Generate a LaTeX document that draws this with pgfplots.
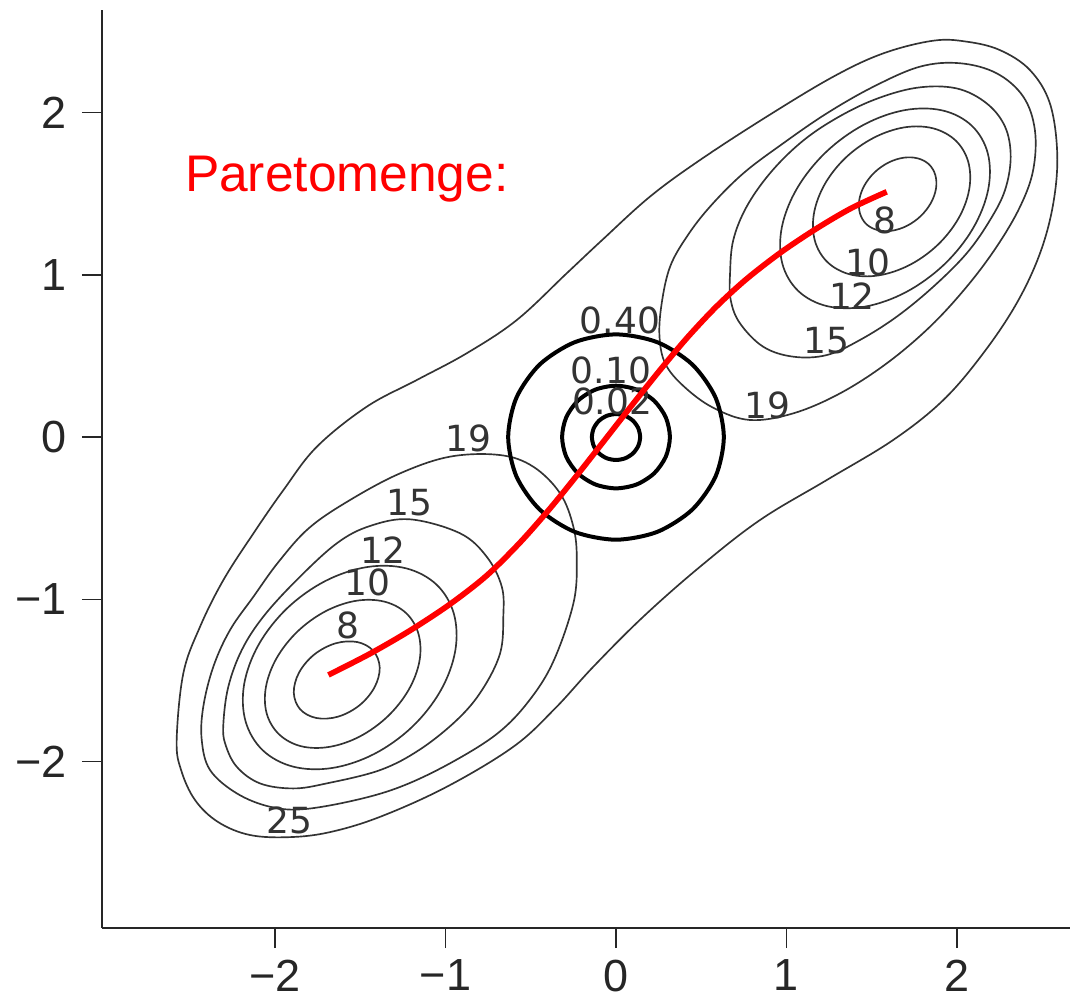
\documentclass[border=0pt]{standalone}
\usepackage{pgfplots}
\pgfplotsset{compat=1.18}
\usepackage{fontspec}
\setmainfont{Liberation Sans}
\newfontfamily\labelfont{DejaVu Sans}

% thin level lines of f1, thick circles of f2 = x^2 + y^2
\pgfplotsset{
  level/.style={black!80, line width=0.5pt, smooth cycle, tension=0.6},
  ring/.style={black, line width=1.2pt, smooth cycle},
}
\tikzset{
  clab/.style={font=\labelfont\fontsize{10.8}{12}\selectfont, text=black!80, inner sep=0pt},
}

\begin{document}
\begin{tikzpicture}
\path[use as bounding box] (-30.6pt,-22.2pt) rectangle (290.4pt,278.4pt);
\begin{axis}[
  at={(0pt,0pt)}, anchor=south west,
  scale only axis, width=290.4pt, height=275.4pt,
  xmin=-3.015, xmax=2.663, ymin=-3.025, ymax=2.631,
  axis lines*=left,
  axis line style={line width=0.6pt, black!85},
  tick align=outside,
  major tick length=6pt,
  tick style={line width=0.5pt, black!85},
  xtick={-2,-1,0,1,2}, ytick={-2,-1,0,1,2},
  xticklabels={−2,−1,0,1,2}, yticklabels={−2,−1,0,1,2},
  tick label style={font=\fontsize{13.5}{16}\selectfont, text=black!85},
  yticklabel style={xshift=-1pt},
  clip=false,
]

% level 25 (encloses both wells)
\addplot[level] coordinates {
(-2.577,-1.867) (-2.538,-1.456) (-2.440,-1.169) (-2.303,-0.881) (-2.127,-0.594)
(-1.951,-0.327) (-1.755,-0.060) (-1.462,0.187) (-1.169,0.351) (-0.876,0.516)
(-0.582,0.721) (-0.289,1.009) (-0.080,1.215) (0.199,1.481) (0.493,1.707)
(0.884,1.974) (1.274,2.220) (1.568,2.364) (1.861,2.442) (2.057,2.436)
(2.252,2.384) (2.428,2.261) (2.545,2.056) (2.588,1.748) (2.565,1.440)
(2.487,1.132) (2.350,0.824) (2.154,0.516) (1.920,0.228) (1.626,-0.018)
(1.236,-0.265) (0.845,-0.511) (0.493,-0.799) (0.160,-1.107) (-0.133,-1.415)
(-0.360,-1.675) (-0.602,-1.908) (-0.993,-2.155) (-1.384,-2.340) (-1.677,-2.434)
(-1.912,-2.465) (-2.147,-2.452) (-2.334,-2.372) (-2.469,-2.237) (-2.551,-2.052)
};

% lower-left well: 19, 15, 12, 10, 8
\addplot[level] coordinates {
(-1.980,-0.770) (-1.800,-0.560) (-1.560,-0.388) (-1.267,-0.224) (-0.974,-0.121)
(-0.680,-0.111) (-0.485,-0.183) (-0.328,-0.347) (-0.250,-0.553) (-0.230,-0.758)
(-0.250,-1.025) (-0.369,-1.386) (-0.514,-1.630) (-0.695,-1.826) (-0.956,-2.000)
(-1.238,-2.144) (-1.500,-2.230) (-1.824,-2.292) (-2.029,-2.278) (-2.225,-2.195)
(-2.381,-2.052) (-2.430,-1.867) (-2.421,-1.662) (-2.362,-1.415) (-2.264,-1.189)
(-2.127,-0.984)
};
\addplot[level] coordinates {
(-2.303,-1.764) (-2.274,-1.538) (-2.195,-1.312) (-2.069,-1.107) (-1.873,-0.881)
(-1.638,-0.655) (-1.443,-0.548) (-1.208,-0.507) (-0.915,-0.593) (-0.758,-0.738)
(-0.670,-0.922) (-0.661,-1.107) (-0.680,-1.333) (-0.786,-1.559) (-0.930,-1.740)
(-1.150,-1.925) (-1.384,-2.052) (-1.697,-2.134) (-1.893,-2.165) (-2.088,-2.134)
(-2.225,-2.031) (-2.293,-1.887)
};
\addplot[level] coordinates {
(-1.052,-0.910) (-1.231,-0.809) (-1.460,-0.801) (-1.705,-0.887) (-1.928,-1.054)
(-2.095,-1.277) (-2.181,-1.522) (-2.173,-1.751) (-2.072,-1.930) (-1.893,-2.031)
(-1.664,-2.039) (-1.419,-1.953) (-1.196,-1.786) (-1.029,-1.563) (-0.943,-1.318)
(-0.951,-1.089)
};
\addplot[level] coordinates {
(-1.230,-1.086) (-1.359,-1.014) (-1.525,-1.009) (-1.703,-1.073) (-1.866,-1.196)
(-1.989,-1.359) (-2.053,-1.537) (-2.049,-1.703) (-1.976,-1.832) (-1.847,-1.905)
(-1.681,-1.909) (-1.503,-1.845) (-1.340,-1.722) (-1.217,-1.559) (-1.153,-1.381)
(-1.158,-1.215)
};
\addplot[level] coordinates {
(-1.424,-1.317) (-1.518,-1.263) (-1.645,-1.271) (-1.770,-1.340) (-1.859,-1.451)
(-1.890,-1.574) (-1.853,-1.677) (-1.758,-1.731) (-1.631,-1.723) (-1.506,-1.654)
(-1.417,-1.543) (-1.386,-1.420)
};

% upper-right well: 19, 15, 12, 10, 8
\addplot[level] coordinates {
(0.255,0.620) (0.268,0.824) (0.317,1.049) (0.415,1.234) (0.551,1.419)
(0.747,1.625) (0.981,1.810) (1.236,1.994) (1.509,2.158) (1.783,2.282)
(2.018,2.303) (2.233,2.241) (2.389,2.097) (2.457,1.892) (2.447,1.645)
(2.370,1.419) (2.233,1.173) (2.057,0.926) (1.842,0.680) (1.588,0.454)
(1.314,0.269) (1.040,0.146) (0.786,0.105) (0.571,0.180) (0.400,0.310)
(0.290,0.450)
};
\addplot[level] coordinates {
(0.669,1.009) (0.688,1.214) (0.766,1.419) (0.903,1.625) (1.079,1.810)
(1.274,1.953) (1.509,2.076) (1.764,2.152) (1.998,2.148) (2.174,2.056)
(2.282,1.912) (2.315,1.727) (2.282,1.522) (2.194,1.337) (2.057,1.132)
(1.861,0.926) (1.646,0.741) (1.431,0.598) (1.236,0.505) (1.040,0.495)
(0.864,0.556) (0.727,0.701) (0.673,0.844)
};
\addplot[level] coordinates {
(2.087,1.918) (1.916,2.012) (1.693,2.014) (1.453,1.924) (1.232,1.756)
(1.063,1.534) (0.973,1.294) (0.975,1.071) (1.069,0.900) (1.240,0.806)
(1.463,0.804) (1.703,0.894) (1.925,1.063) (2.093,1.284) (2.183,1.524)
(2.181,1.747)
};
\addplot[level] coordinates {
(1.992,1.827) (1.860,1.902) (1.692,1.908) (1.512,1.844) (1.347,1.721)
(1.224,1.557) (1.161,1.377) (1.167,1.208) (1.241,1.077) (1.373,1.002)
(1.541,0.996) (1.722,1.060) (1.886,1.183) (2.009,1.347) (2.072,1.527)
(2.066,1.696)
};
\addplot[level] coordinates {
(1.836,1.680) (1.770,1.717) (1.687,1.721) (1.598,1.691) (1.517,1.631)
(1.457,1.550) (1.427,1.461) (1.431,1.378) (1.468,1.312) (1.534,1.275)
(1.617,1.271) (1.706,1.301) (1.787,1.361) (1.847,1.442) (1.877,1.531)
(1.873,1.614)
};

% f2 levels 0.02, 0.10, 0.40
\addplot[ring] coordinates {
(0.1414,0) (0.1307,0.0541) (0.1,0.1) (0.0541,0.1307) (0,0.1414)
(-0.0541,0.1307) (-0.1,0.1) (-0.1307,0.0541) (-0.1414,0) (-0.1307,-0.0541)
(-0.1,-0.1) (-0.0541,-0.1307) (0,-0.1414) (0.0541,-0.1307) (0.1,-0.1) (0.1307,-0.0541)
};
\addplot[ring] coordinates {
(0.3162,0) (0.2921,0.1210) (0.2236,0.2236) (0.1210,0.2921) (0,0.3162)
(-0.1210,0.2921) (-0.2236,0.2236) (-0.2921,0.1210) (-0.3162,0) (-0.2921,-0.1210)
(-0.2236,-0.2236) (-0.1210,-0.2921) (0,-0.3162) (0.1210,-0.2921) (0.2236,-0.2236) (0.2921,-0.1210)
};
\addplot[ring] coordinates {
(0.6325,0) (0.5843,0.2420) (0.4472,0.4472) (0.2420,0.5843) (0,0.6325)
(-0.2420,0.5843) (-0.4472,0.4472) (-0.5843,0.2420) (-0.6325,0) (-0.5843,-0.2420)
(-0.4472,-0.4472) (-0.2420,-0.5843) (0,-0.6325) (0.2420,-0.5843) (0.4472,-0.4472) (0.5843,-0.2420)
};

% contour labels
\node[clab] at (axis cs:-1.572,-1.158) {8};
\node[clab] at (axis cs:-1.457,-0.896) {10};
\node[clab] at (axis cs:-1.367,-0.696) {12};
\node[clab] at (axis cs:-1.214,-0.407) {15};
\node[clab] at (axis cs:-0.868,-0.009) {19};
\node[clab] at (axis cs:-1.918,-2.360) {25};
\node[clab] at (axis cs:1.578,1.337) {8};
\node[clab] at (axis cs:1.478,1.075) {10};
\node[clab] at (axis cs:1.384,0.869) {12};
\node[clab] at (axis cs:1.232,0.592) {15};
\node[clab] at (axis cs:0.886,0.197) {19};
\node[clab] at (axis cs:0.023,0.721) {0.40};
\node[clab] at (axis cs:-0.029,0.413) {0.10};
\node[clab] at (axis cs:-0.023,0.222) {0.02};

% Pareto set
\addplot[red, line width=1.7pt, smooth] coordinates {
(-1.687,-1.466) (-1.443,-1.335) (-1.208,-1.192) (-0.974,-1.030) (-0.760,-0.855)
(-0.563,-0.650) (-0.387,-0.440) (-0.223,-0.228) (-0.060,-0.010) (0.100,0.205)
(0.260,0.415) (0.420,0.615) (0.590,0.805) (0.767,0.975) (0.970,1.140)
(1.177,1.285) (1.380,1.410) (1.588,1.511)
};

\node[anchor=base west, inner sep=0pt, text=red,
      font=\fontsize{15.45}{18}\selectfont] at (axis cs:-2.532,1.511) {Paretomenge:};
\end{axis}
\end{tikzpicture}
\end{document}
